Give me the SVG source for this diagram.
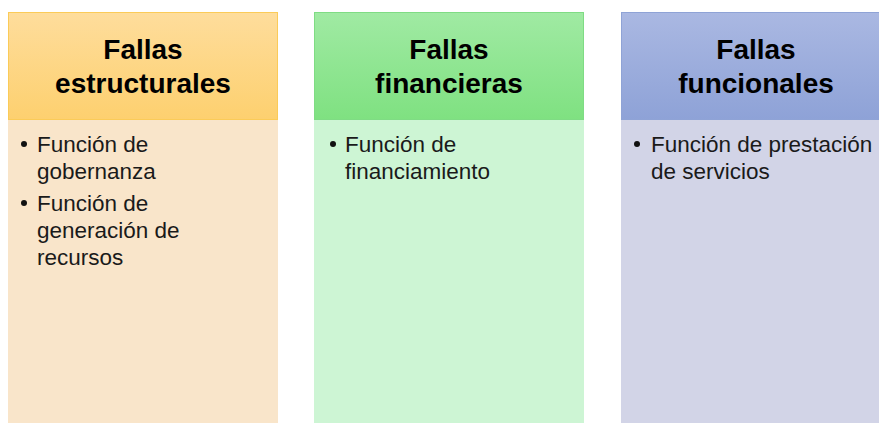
<svg xmlns="http://www.w3.org/2000/svg" width="879" height="423" viewBox="0 0 879 423">
<defs>
<linearGradient id="gO" x1="0" y1="0" x2="0" y2="1"><stop offset="0" stop-color="#fedd9c"/><stop offset="1" stop-color="#fdd06f"/></linearGradient>
<linearGradient id="gG" x1="0" y1="0" x2="0" y2="1"><stop offset="0" stop-color="#a0eaa3"/><stop offset="1" stop-color="#7fe181"/></linearGradient>
<linearGradient id="gB" x1="0" y1="0" x2="0" y2="1"><stop offset="0" stop-color="#aab8e2"/><stop offset="1" stop-color="#8ea2d7"/></linearGradient>
<style>
.t{font-family:"Liberation Sans",Arial,sans-serif;font-weight:bold;font-size:28px;fill:#000;text-anchor:middle}
.b{font-family:"Liberation Sans",Arial,sans-serif;font-size:22.5px;fill:#1a1a1a}
</style>
</defs>
<g id="col1">
<rect x="8" y="120" width="270" height="310" fill="#f9e5ca"/>
<rect x="8.5" y="12.5" width="269" height="107" fill="url(#gO)" stroke="#fbcb58" stroke-width="1"/>
<text class="t" x="143" y="59">Fallas</text>
<text class="t" x="143" y="93">estructurales</text>
<circle cx="24" cy="144" r="3" fill="#111"/>
<text class="b" x="37" y="152">Función de</text>
<text class="b" x="37" y="179">gobernanza</text>
<circle cx="24" cy="203" r="3" fill="#111"/>
<text class="b" x="37" y="211">Función de</text>
<text class="b" x="37" y="238">generación de</text>
<text class="b" x="37" y="265">recursos</text>
</g>
<g id="col2">
<rect x="314" y="120" width="270" height="310" fill="#cdf5d4"/>
<rect x="314.5" y="12.5" width="269" height="107" fill="url(#gG)" stroke="#7fdc84" stroke-width="1"/>
<text class="t" x="449" y="59">Fallas</text>
<text class="t" x="449" y="93">financieras</text>
<circle cx="333" cy="144" r="3" fill="#111"/>
<text class="b" x="345" y="152">Función de</text>
<text class="b" x="345" y="179">financiamiento</text>
</g>
<g id="col3">
<rect x="621" y="120" width="270" height="310" fill="#d2d4e7"/>
<rect x="621.5" y="12.5" width="269" height="107" fill="url(#gB)" stroke="#8fa3d6" stroke-width="1"/>
<text class="t" x="756" y="59">Fallas</text>
<text class="t" x="756" y="93">funcionales</text>
<circle cx="637" cy="144" r="3" fill="#111"/>
<text class="b" x="651" y="152">Función de prestación</text>
<text class="b" x="651" y="179">de servicios</text>
</g>
<g id="connectors"/>
</svg>
